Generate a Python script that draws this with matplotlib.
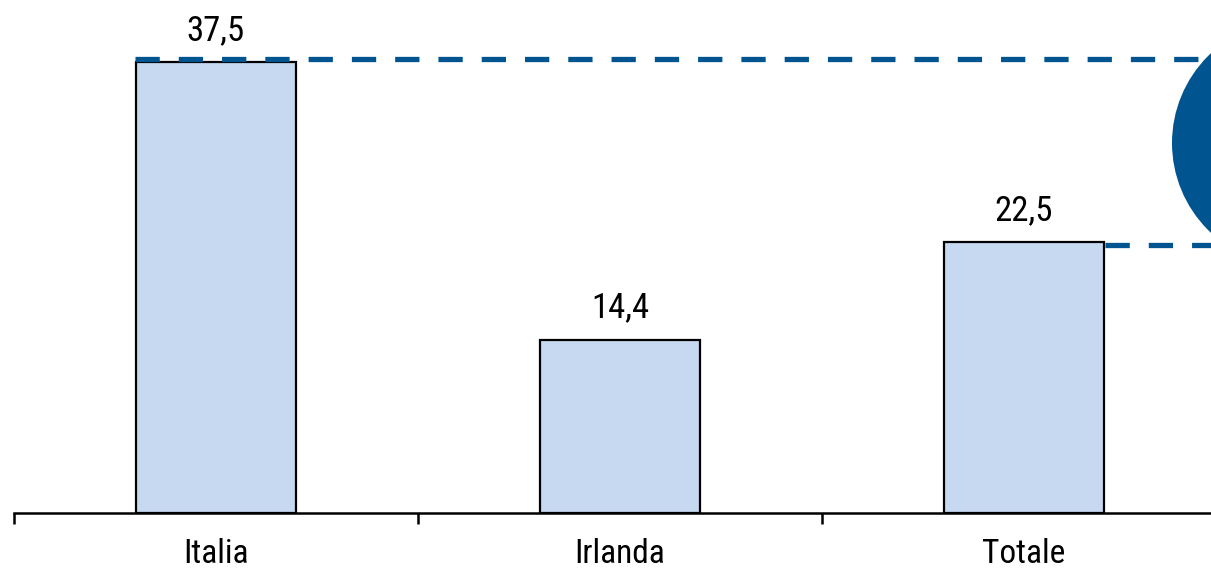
import matplotlib
matplotlib.use("Agg")
import matplotlib.pyplot as plt
from matplotlib.patches import Circle
from matplotlib import font_manager

categories = ["Italia", "Irlanda", "Totale"]
values = [37.5, 14.4, 22.5]
value_labels = ["37,5", "14,4", "22,5"]

names = {f.name for f in font_manager.fontManager.ttflist}
fam = "Liberation Sans"
for cand in ["Liberation Sans Narrow", "Arial Narrow", "Roboto Condensed",
             "Archivo Narrow", "PT Sans Narrow"]:
    if cand in names:
        fam = cand
        break
plt.rcParams["font.family"] = [fam, "DejaVu Sans"]

W, H = 1211, 571
fig = plt.figure(figsize=(W / 100, H / 100), dpi=100)
# axes spans beyond right edge (chart is cropped)
x0, x1 = 14, 14 + 3 * 404
y0, y1 = 513, 62 - 451 * (40 - 37.5) / 37.5
ax = fig.add_axes([x0 / W, 1 - y0 / H, (x1 - x0) / W, (y0 - y1) / H])
ax.set_xlim(-0.5, 2.5)
ax.set_ylim(0, 40)

bar_color = "#C6D9F0"
line_color = "#00548F"
xs = list(range(len(categories)))
ax.bar(xs, values, width=0.396, color=bar_color, edgecolor="black", linewidth=1.6, zorder=2)

for x, v, lab in zip(xs, values, value_labels):
    ax.annotate(lab, (x, v), xytext=(0, 16), textcoords="offset points",
                ha="center", va="baseline", fontsize=25, color="black")

# dashed reference lines
ax.plot([-0.2, 2.5], [values[0] + 0.25, values[0] + 0.25], ls=(0, (4.6, 3.6)),
        color=line_color, lw=3.8, zorder=3, clip_on=False)
ax.plot([2.2, 2.5], [values[2] - 0.2, values[2] - 0.2], ls=(0, (4.6, 3.6)),
        color=line_color, lw=3.8, zorder=3, clip_on=False)

# decorative bubble (partly cropped)
circ = Circle((12.95, (H - 143) / 100), 1.23, transform=fig.dpi_scale_trans,
              facecolor=line_color, edgecolor="none", zorder=5)
fig.patches.append(circ)

for s in ["top", "right", "left"]:
    ax.spines[s].set_visible(False)
ax.spines["bottom"].set_linewidth(1.8)
ax.set_yticks([])
ax.set_xticks([-0.5, 0.5, 1.5, 2.5])
ax.set_xticklabels([])
ax.set_xticks(xs, minor=True)
ax.set_xticklabels(categories, minor=True, fontsize=24)
ax.tick_params(axis="x", which="major", direction="out", length=8, width=1.8)
ax.tick_params(axis="x", which="minor", length=0, pad=18)

fig.savefig("out.png", dpi=100)
